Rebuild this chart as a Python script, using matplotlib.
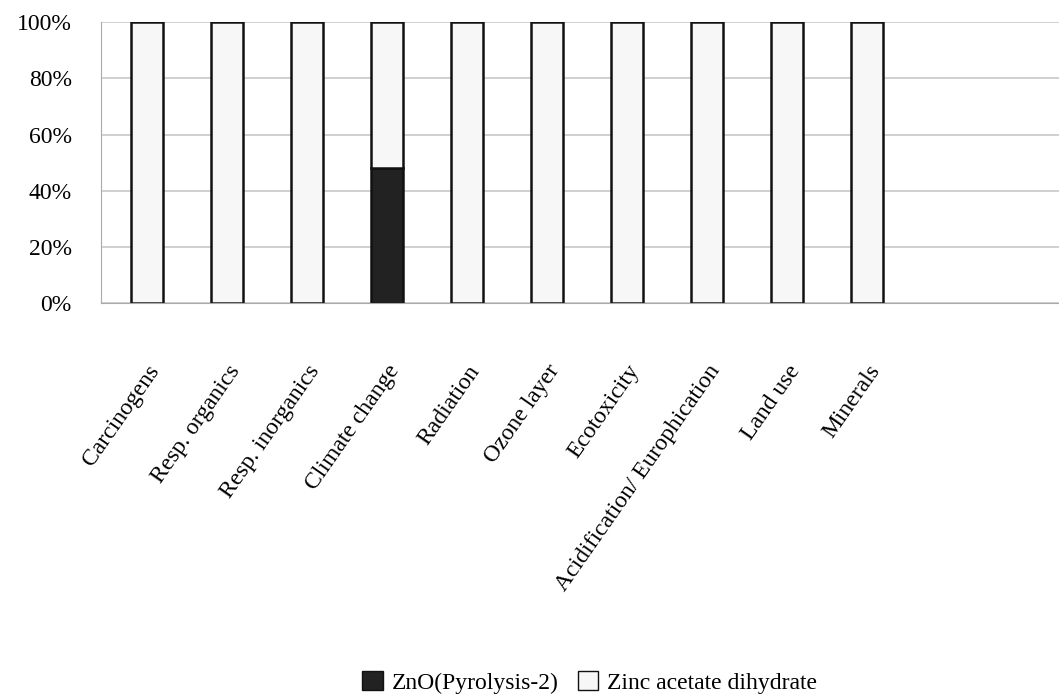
import matplotlib.pyplot as plt
from matplotlib.patches import Patch

categories = ["Carcinogens", "Resp. organics", "Resp. inorganics", "Climate change",
              "Radiation", "Ozone layer", "Ecotoxicity", "Acidification/ Europhication",
              "Land use", "Minerals"]
zno = [0, 0, 0, 48, 0, 0, 0, 0, 0, 0]
zinc_acetate = [100, 100, 100, 52, 100, 100, 100, 100, 100, 100]
yticks = [0, 20, 40, 60, 80, 100]

plt.rcParams['font.family'] = ['Liberation Serif', 'DejaVu Serif']

fig = plt.figure(figsize=(10.59, 6.98), dpi=100)
ax = fig.add_axes([0.0954, 0.566, 0.9046, 0.402])

x = list(range(len(categories)))
ax.bar(x, zno, width=0.4, color='#222222', edgecolor='#111111', linewidth=1.8)
ax.bar(x, zinc_acetate, bottom=zno, width=0.4, color='#f7f7f7',
       edgecolor='#111111', linewidth=1.8)

ax.set_xlim(-0.575, 11.4)
ax.set_ylim(0, 100)
ax.set_yticks(yticks)
ax.set_yticklabels([f"{v}%" for v in yticks], fontsize=17)
ax.yaxis.grid(True, color='#c8c8c8', linewidth=1.2)
ax.set_axisbelow(True)
ax.tick_params(axis='y', length=0, pad=21)
ax.tick_params(axis='x', length=0, pad=42)
ax.set_xticks(x)
ax.set_xticklabels(categories, rotation=55, ha='right', rotation_mode='anchor',
                   fontsize=17)
for s in ['top', 'right']:
    ax.spines[s].set_visible(False)
ax.spines['left'].set_color('#aaaaaa')
ax.spines['bottom'].set_color('#aaaaaa')

handles = [Patch(facecolor='#222222', edgecolor='#111111', label='ZnO(Pyrolysis-2)'),
           Patch(facecolor='#f7f7f7', edgecolor='#111111', label='Zinc acetate dihydrate')]
fig.legend(handles=handles, loc='center', bbox_to_anchor=(0.557, 0.022), ncol=2,
           frameon=False, fontsize=17, handlelength=0.85, handleheight=0.85,
           handletextpad=0.4, columnspacing=0.8)

fig.savefig("out.png", dpi=100)
